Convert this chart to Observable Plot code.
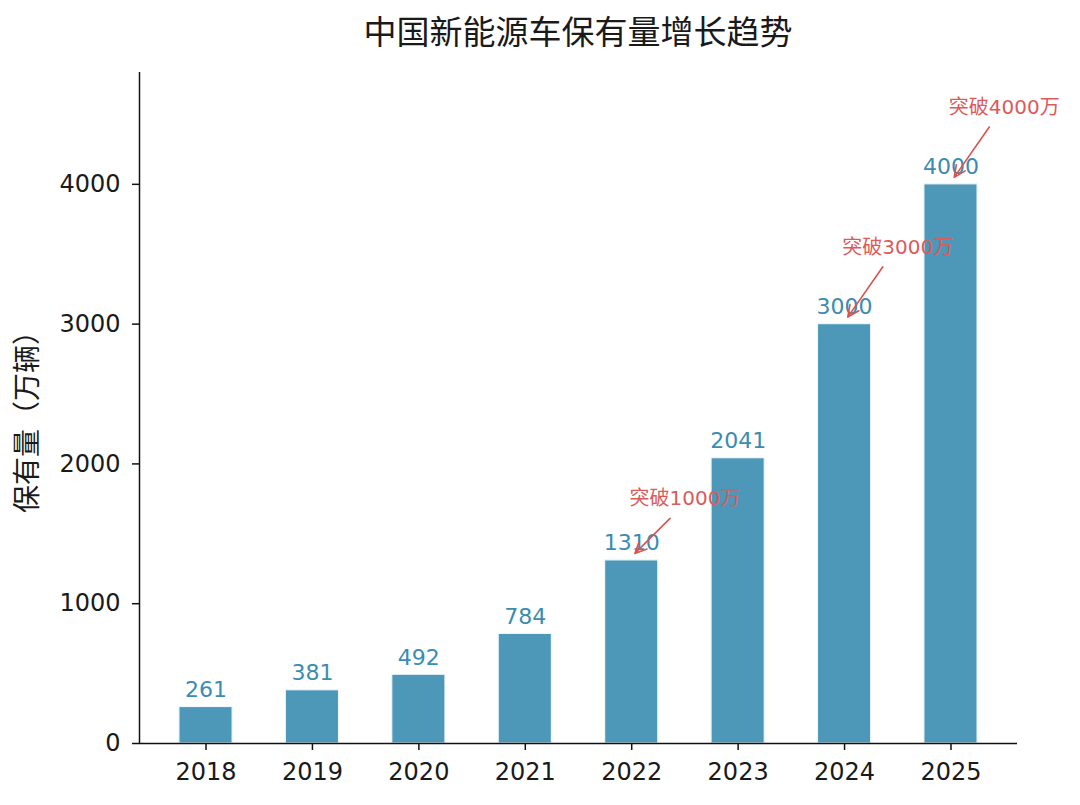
<!DOCTYPE html>
<html>
<head>
<meta charset="utf-8">
<script src="https://cdn.jsdelivr.net/npm/d3@7"></script>
<script src="https://cdn.jsdelivr.net/npm/@observablehq/plot@0.6"></script>
<style>
  html, body { margin: 0; padding: 0; background: #fff; }
  #title { height: 56px; line-height: 60px; box-sizing: border-box; padding-left: 139px; padding-right: 63px; text-align: center; font-family: "Noto Sans CJK SC", sans-serif; font-size: 33px; color: #1a1a1a; }
  #chart svg { display: block; }
</style>
</head>
<body>
<div id="title">中国新能源车保有量增长趋势</div>
<div id="chart"></div>
<script>
const years = [2018, 2019, 2020, 2021, 2022, 2023, 2024, 2025];
const values = [261, 381, 492, 784, 1310, 2041, 3000, 4000];
const yTicks = [0, 1000, 2000, 3000, 4000];
const yLabel = "保有量（万辆）";
const annYears = [2022, 2024, 2025];
const annTexts = ["突破1000万", "突破3000万", "突破4000万"];
const annTextY = [1750, 3550, 4550];

const data = years.map((year, i) => ({year, value: values[i]}));
const ann = annYears.map((year, i) => ({
  year,
  text: annTexts[i],
  textY: annTextY[i],
  value: values[years.indexOf(year)]
}));

const xDomain = [2017.375, 2025.625];
const font = '"DejaVu Sans", "Noto Sans CJK SC", sans-serif';

const chart = Plot.plot({
  width: 1080,
  height: 749,
  marginLeft: 139,
  marginRight: 63,
  marginTop: 16,
  marginBottom: 62,
  style: {fontFamily: font, fontSize: "24px", color: "#111", background: "#fff"},
  x: {type: "linear", domain: xDomain},
  y: {domain: [0, 4800]},
  marks: [
    Plot.rectY(data, {
      x1: d => d.year - 0.25,
      x2: d => d.year + 0.25,
      y: "value",
      fill: "#2E86AB",
      fillOpacity: 0.85,
      stroke: "#eef6f9",
      strokeWidth: 1.2
    }),
    Plot.axisX({ticks: years, tickFormat: d => String(d), tickSize: 7, tickPadding: 12, strokeWidth: 1.5, label: null, fontSize: 24, fill: "#1a1a1a"}),
    Plot.axisY({ticks: yTicks, tickFormat: d => String(d), tickSize: 7, tickPadding: 12, strokeWidth: 1.5, label: null, fontSize: 24, fill: "#1a1a1a"}),
    Plot.text([yLabel], {
      text: d => d,
      frameAnchor: "left",
      textAnchor: "middle",
      rotate: -90,
      dx: -111,
      dy: 7,
      fontSize: 28,
      fontFamily: '"Noto Sans CJK SC", sans-serif',
      fill: "#1a1a1a"
    }),
    Plot.ruleX([xDomain[0]], {stroke: "#111", strokeWidth: 1.5}),
    Plot.ruleY([0], {stroke: "#111", strokeWidth: 1.5}),
    Plot.text(data, {
      x: "year",
      y: "value",
      text: d => String(d.value),
      dy: -10,
      lineAnchor: "bottom",
      fill: "#3a8cb0",
      fontSize: 22,
      fontFamily: font
    }),
    Plot.arrow(ann, {
      x1: d => d.year + 0.36,
      y1: d => d.textY - 140,
      x2: d => d.year + 0.03,
      y2: d => d.value + 50,
      stroke: "#d9534f",
      strokeWidth: 1.6,
      headLength: 12,
      headAngle: 50
    }),
    Plot.text(ann, {
      x: d => d.year + 0.5,
      y: "textY",
      text: "text",
      fill: "#dc5a5a",
      fontSize: 20,
      fontFamily: font
    })
  ]
});
document.getElementById("chart").appendChild(chart);
</script>
</body>
</html>
